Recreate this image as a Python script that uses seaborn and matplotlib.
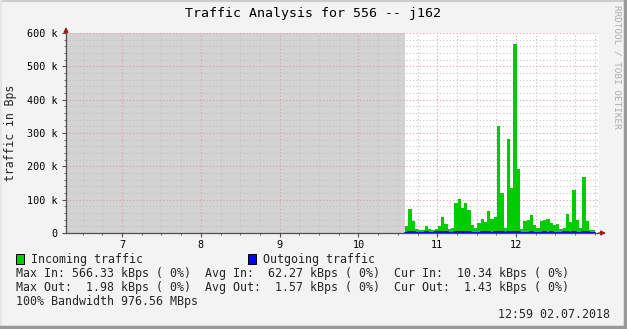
import numpy as np
import pandas as pd
import matplotlib
matplotlib.use("Agg")
import matplotlib.pyplot as plt
import seaborn as sns
from matplotlib.patches import Rectangle
from matplotlib.lines import Line2D
from matplotlib.ticker import MultipleLocator, FixedLocator, FuncFormatter

# ---------------- data ----------------
title = "Traffic Analysis for 556 -- j162"
y_label = "traffic in Bps"
series_names = ["Incoming traffic", "Outgoing traffic"]
series_colors = ["#00CC00", "#0000FF"]
x_tick_hours = [7, 8, 9, 10, 11, 12]
x_tick_labels = ["7", "8", "9", "10", "11", "12"]
y_ticks_k = [0, 100, 200, 300, 400, 500, 600]

view_start_hour = 6.289          # left edge of the graph window
view_end_hour = 13.053           # right edge of the graph window
data_start_hour = 10 + 35.5 / 60 # first sample (earlier: unknown)
step_minutes = 2.5

incoming_k = [21, 72, 36, 12, 9, 9, 21, 12, 9, 12,
              21, 48, 27, 12, 15, 90, 102, 75, 90, 69,
              24, 15, 30, 42, 33, 66, 42, 48, 321, 120,
              15, 283, 135, 566.33, 192, 12, 36, 38, 54, 24,
              15, 36, 38, 42, 30, 24, 27, 12, 15, 57,
              33, 129, 39, 15, 168, 36, 9, 10.34]
outgoing_k = [1.5, 1.6, 1.7, 1.4, 1.3, 1.5, 1.6, 1.5, 1.4, 1.6,
              1.7, 1.8, 1.6, 1.5, 1.4, 1.6, 1.7, 1.9, 1.8, 1.6,
              1.5, 1.4, 1.5, 1.6, 1.7, 1.6, 1.5, 1.6, 1.98, 1.8,
              1.5, 1.7, 1.6, 1.9, 1.8, 1.5, 1.4, 1.5, 1.6, 1.5,
              1.4, 1.5, 1.6, 1.5, 1.6, 1.5, 1.4, 1.5, 1.6, 1.7,
              1.5, 1.6, 1.5, 1.4, 1.7, 1.6, 1.5, 1.43]

legend_lines = [
    "Max In: 566.33 kBps ( 0%)  Avg In:  62.27 kBps ( 0%)  Cur In:  10.34 kBps ( 0%)",
    "Max Out:  1.98 kBps ( 0%)  Avg Out:  1.57 kBps ( 0%)  Cur Out:  1.43 kBps ( 0%)",
    "100% Bandwidth 976.56 MBps",
]
timestamp = "12:59 02.07.2018"
watermark = "RRDTOOL / TOBI OETIKER"

# ---------------- build frame ----------------
n = len(incoming_k)
step_h = step_minutes / 60.0
starts = data_start_hour + np.arange(n) * step_h
data_end_hour = starts[-1] + step_h
df = pd.DataFrame({
    "center": starts + step_h / 2,
    "incoming": np.array(incoming_k) * 1000.0,
    "outgoing": np.array(outgoing_k) * 1000.0,
})

# ---------------- style ----------------
sns.set_style("white")
plt.rcParams["font.family"] = ["DejaVu Sans Mono", "DejaVu Sans"]

W, H = 627, 329
fig = plt.figure(figsize=(W / 100, H / 100), dpi=100, facecolor="#F3F3F3")
L, R, T, B = 66, 599, 33, 233
ax = fig.add_axes([L / W, 1 - B / H, (R - L) / W, (B - T) / H])
ax.set_facecolor("white")

# unknown-data shading
ax.axvspan(view_start_hour, data_start_hour, color="#D3D3D3", zorder=0.2, lw=0)

# incoming bars
sns.histplot(data=df, x="center", weights="incoming", bins=n,
             binrange=(data_start_hour, data_end_hour),
             color=series_colors[0], alpha=1, linewidth=0, edgecolor="none",
             element="bars", stat="count", ax=ax, zorder=2)
# outgoing line
out_x = np.append(starts, data_end_hour)
out_y = np.append(df["outgoing"].values, df["outgoing"].values[-1])
sns.lineplot(x=out_x, y=out_y, drawstyle="steps-post", color=series_colors[1],
             linewidth=1.4, ax=ax, zorder=3, estimator=None, sort=False)

ax.set_xlim(view_start_hour, view_end_hour)
ax.set_ylim(0, 600000)

# ticks and grid
ax.xaxis.set_major_locator(FixedLocator(x_tick_hours))
ax.set_xticklabels(x_tick_labels)
ax.xaxis.set_minor_locator(MultipleLocator(0.25))
ax.yaxis.set_major_locator(FixedLocator([v * 1000 for v in y_ticks_k]))
ax.yaxis.set_major_formatter(FuncFormatter(lambda v, p: "0" if v == 0 else f"{v/1000:.0f} k"))
ax.yaxis.set_minor_locator(MultipleLocator(20000))
ax.set_axisbelow(True)
ax.grid(which="minor", color="#C4C4C4", linestyle=(0, (1, 2)), linewidth=0.8, zorder=1)
ax.grid(which="major", color="#E39A9A", linestyle=(0, (1, 2)), linewidth=0.8, zorder=1)
for gl in ax.get_xgridlines() + ax.get_ygridlines():
    gl.set_zorder(1)

ax.tick_params(axis="both", which="major", length=3, width=0.8, color="#505050",
               labelsize=7.3, labelcolor="#000000", pad=2)
ax.tick_params(axis="both", which="minor", length=1.5, width=0.6, color="#505050")
ax.tick_params(axis="y", which="major", pad=3)
ax.tick_params(axis="both", direction="out", bottom=True, left=True)
ax.tick_params(axis="both", which="minor", bottom=True, left=True)

for s in ["top", "right"]:
    ax.spines[s].set_visible(False)
for s in ["left", "bottom"]:
    ax.spines[s].set_color("#505050")
    ax.spines[s].set_linewidth(0.9)
    ax.spines[s].set_zorder(4)
ax.set_xlabel("")
ax.set_ylabel("")

# axis arrows
arrow_col = "#9B1C1C"
ax.annotate("", xy=(1 + 7 / (R - L), 0), xytext=(1 - 0.001, 0), xycoords="axes fraction",
            arrowprops=dict(arrowstyle="-|>", color=arrow_col, lw=0.9, mutation_scale=7,
                            shrinkA=0, shrinkB=0), annotation_clip=False)
ax.annotate("", xy=(0, 1 + 6 / (B - T)), xytext=(0, 1 - 0.001), xycoords="axes fraction",
            arrowprops=dict(arrowstyle="-|>", color=arrow_col, lw=0.9, mutation_scale=7,
                            shrinkA=0, shrinkB=0), annotation_clip=False)

def fx(px):
    return px / W

def fy(py):
    return 1 - py / H

# title and labels
fig.text(fx(313), fy(13), title, ha="center", va="center", fontsize=9.5, color="#000000")
fig.text(fx(11), fy(133), y_label, ha="center", va="center", rotation=90, fontsize=8.3)
fig.text(fx(617), fy(5), watermark, ha="center", va="top", rotation=-90,
         fontsize=6.7, color="#ADADAD")

# legend
leg_y = 259
for (x0, name, col) in [(16, series_names[0], series_colors[0]),
                        (248, series_names[1], series_colors[1])]:
    fig.patches.append(Rectangle((fx(x0), fy(leg_y + 5)), 8 / W, 10 / H,
                                 transform=fig.transFigure, facecolor=col,
                                 edgecolor="#000000", linewidth=0.7))
    fig.text(fx(x0 + 15), fy(leg_y), name, ha="left", va="center", fontsize=8.4)

for i, line in enumerate(legend_lines):
    fig.text(fx(16), fy(273 + 14 * i), line, ha="left", va="center", fontsize=8.4)
fig.text(fx(610), fy(315), timestamp, ha="right", va="center", fontsize=8.4)

# outer 3D frame
fig.add_artist(Line2D([0, 1], [1 - 1 / H, 1 - 1 / H], transform=fig.transFigure,
                      color="#CCCCCC", lw=1.5))
fig.add_artist(Line2D([1 / W, 1 / W], [0, 1], transform=fig.transFigure,
                      color="#E6E6E6", lw=1.5))
fig.add_artist(Line2D([1 - 2 / W, 1 - 2 / W], [0, 1], transform=fig.transFigure,
                      color="#999999", lw=2.5))
fig.add_artist(Line2D([0, 1], [2 / H, 2 / H], transform=fig.transFigure,
                      color="#999999", lw=2.5))

fig.savefig("out.png", dpi=100, facecolor=fig.get_facecolor())
